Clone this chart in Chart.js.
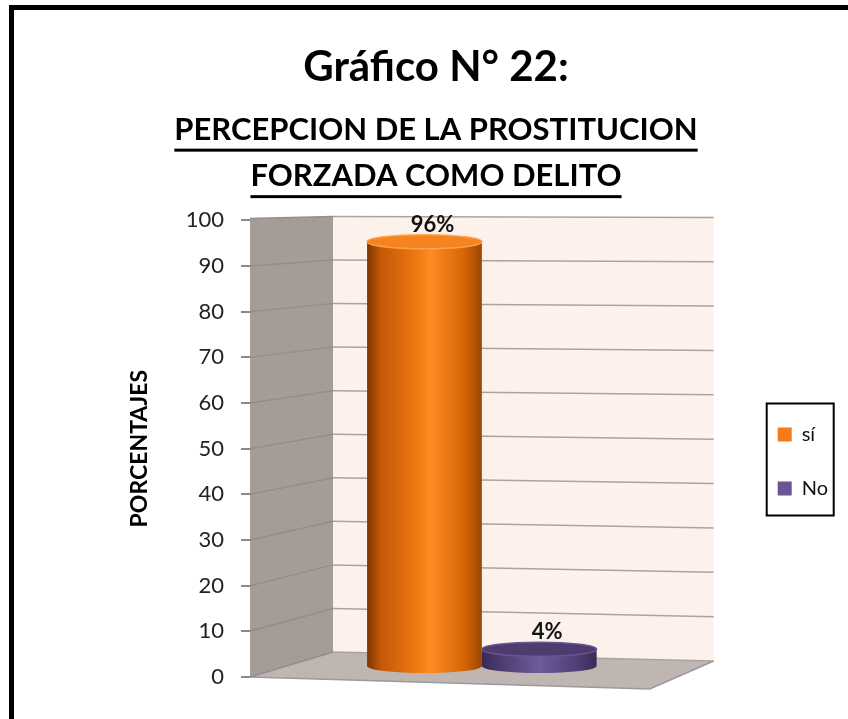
<!DOCTYPE html>
<html><head><meta charset="utf-8">
<script src="https://cdn.jsdelivr.net/npm/chart.js@4/dist/chart.umd.min.js"></script>
<style>html,body{margin:0;padding:0;background:#fff;overflow:hidden}</style>
</head><body>
<canvas id="c" width="848" height="719"></canvas>
<script>
const categories = [''];
const seriesNames = ['sí', 'No'];
const siValues = [96];
const noValues = [4];
const yTicks = [0, 10, 20, 30, 40, 50, 60, 70, 80, 90, 100];
const valueLabels = ['96%', '4%'];
const titleText = 'Gráfico N° 22:';
const subtitleLines = ['PERCEPCION DE LA PROSTITUCION', 'FORZADA COMO DELITO'];
const yAxisTitle = 'PORCENTAJES';
const seriesColors = ['#f47a1a', '#6b5592'];

const FONT = 'Lato, "Open Sans", sans-serif';
Chart.defaults.font.family = FONT;

const cylStops = [
  [[0, '#7e3602'], [0.12, '#c45806'], [0.45, '#f07a14'], [0.55, '#ff8b22'], [0.85, '#d46606'], [1, '#9c4503']],
  [[0, '#3a2a56'], [0.15, '#4c3a6e'], [0.5, '#6f5a9c'], [0.85, '#4e3c72'], [1, '#3a2a56']]
];
const capColors = [['#f5831f', '#ffa04a'], ['#4e3c70', '#6a5592']];

const framePlugin = {
  id: 'frame',
  beforeDraw(chart) {
    const ctx = chart.ctx;
    ctx.save();
    ctx.fillStyle = '#fff';
    ctx.fillRect(0, 0, chart.width, chart.height);
    ctx.fillStyle = '#000';
    ctx.fillRect(9, 5, chart.width - 9, 5);
    ctx.fillRect(9, 5, 5, chart.height - 5);
    ctx.restore();
  },
  afterDraw(chart) {
    const ctx = chart.ctx;
    const sub = chart.boxes.find(b => b.options && Array.isArray(b.options.text));
    if (sub) {
      const f = Chart.helpers.toFont(sub.options.font);
      const pad = Chart.helpers.toPadding(sub.options.padding);
      const cx = (sub.left + sub.right) / 2;
      ctx.save();
      ctx.font = f.string;
      ctx.fillStyle = '#000';
      sub.options.text.forEach((t, i) => {
        const w = ctx.measureText(t).width;
        const yc = sub.top + pad.top + f.lineHeight / 2 + i * f.lineHeight;
        ctx.fillRect(cx - w / 2, yc + 19, w, 3);
      });
      ctx.restore();
    }
    const lg = chart.legend;
    if (lg && lg.legendHitBoxes && lg.legendHitBoxes.length) {
      const hb = lg.legendHitBoxes;
      const l = hb[0].left - 11, t = hb[0].top - 21;
      const r = hb[0].left + 56, b = hb[hb.length - 1].top + hb[hb.length - 1].height + 17;
      ctx.save();
      ctx.strokeStyle = '#000';
      ctx.lineWidth = 2;
      ctx.strokeRect(l, t, r - l, b - t);
      ctx.restore();
    }
  }
};

const wallsPlugin = {
  id: 'walls',
  beforeDatasetsDraw(chart) {
    const ctx = chart.ctx, ys = chart.scales.y, ca = chart.chartArea;
    const L = ca.left, R = ca.right, dx = 83;
    const yF = v => ys.getPixelForValue(v);
    const T = yF(100), B = yF(0);
    const yBL = v => T - 4 + (yF(v) - T) * 0.954;
    const yBR = v => yBL(v) + 1 + (1 - v / 100) * 8;
    ctx.save();
    ctx.fillStyle = '#a59c98';
    ctx.beginPath();
    ctx.moveTo(L, T - 2); ctx.lineTo(L + dx, yBL(100)); ctx.lineTo(L + dx, yBL(0)); ctx.lineTo(L, B);
    ctx.closePath(); ctx.fill();
    ctx.fillStyle = '#fdf1ec';
    ctx.beginPath();
    ctx.moveTo(L + dx, yBL(100)); ctx.lineTo(R, yBR(100)); ctx.lineTo(R, yBR(0)); ctx.lineTo(L + dx, yBL(0));
    ctx.closePath(); ctx.fill();
    ctx.fillStyle = '#bfb5b1';
    ctx.beginPath();
    ctx.moveTo(L, B); ctx.lineTo(L + dx, yBL(0)); ctx.lineTo(R, yBR(0)); ctx.lineTo(R - 64, B + 12);
    ctx.closePath(); ctx.fill();
    ctx.strokeStyle = '#9a9a9a';
    ctx.lineWidth = 1.5;
    ctx.beginPath();
    ctx.moveTo(L, B); ctx.lineTo(R - 64, B + 12); ctx.lineTo(R, yBR(0));
    ctx.stroke();
    yTicks.forEach(v => {
      ctx.strokeStyle = '#8f8f8f';
      ctx.beginPath();
      ctx.moveTo(L, v === 100 ? T - 2 : yF(v)); ctx.lineTo(L + dx, yBL(v));
      ctx.stroke();
      ctx.strokeStyle = '#a8a4a2';
      ctx.beginPath();
      ctx.moveTo(L + dx, yBL(v)); ctx.lineTo(R, yBR(v));
      ctx.stroke();
    });
    ctx.restore();
  },
  afterDatasetsDraw(chart) {
    const ctx = chart.ctx;
    chart.data.datasets.forEach((ds, di) => {
      const meta = chart.getDatasetMeta(di);
      meta.data.forEach((el, j) => {
        const p = el.getProps(['x', 'y', 'base', 'width'], true);
        const w = p.width, x0 = p.x - w / 2, rx = w / 2, ry = 7;
        const yBot = p.base - 10;
        const yTop = yBot - (p.base - p.y) * 0.97;
        ctx.save();
        const g = ctx.createLinearGradient(x0, 0, x0 + w, 0);
        cylStops[di].forEach(s => g.addColorStop(s[0], s[1]));
        ctx.fillStyle = g;
        ctx.beginPath();
        ctx.moveTo(x0, yTop);
        ctx.lineTo(x0, yBot);
        ctx.ellipse(p.x, yBot, rx, ry, 0, Math.PI, 0, true);
        ctx.lineTo(x0 + w, yTop);
        ctx.closePath();
        ctx.fill();
        ctx.fillStyle = capColors[di][0];
        ctx.beginPath();
        ctx.ellipse(p.x, yTop, rx, ry, 0, 0, Math.PI * 2);
        ctx.fill();
        ctx.strokeStyle = capColors[di][1];
        ctx.lineWidth = 1.5;
        ctx.stroke();
        ctx.fillStyle = '#111';
        ctx.font = 'bold 22px ' + FONT;
        ctx.textAlign = 'center';
        ctx.textBaseline = 'bottom';
        ctx.fillText(valueLabels[di], p.x + 8, yTop - 6);
        ctx.restore();
      });
    });
  }
};

new Chart(document.getElementById('c'), {
  type: 'bar',
  data: {
    labels: categories,
    datasets: [
      { label: seriesNames[0], data: siValues, backgroundColor: 'rgba(0,0,0,0)', borderWidth: 0 },
      { label: seriesNames[1], data: noValues, backgroundColor: 'rgba(0,0,0,0)', borderWidth: 0 }
    ]
  },
  options: {
    responsive: false,
    animation: false,
    devicePixelRatio: 1,
    layout: { padding: { left: 34, right: 10, top: 10, bottom: 42 } },
    datasets: { bar: { categoryPercentage: 0.495, barPercentage: 1 } },
    plugins: {
      tooltip: { enabled: false },
      title: {
        display: true, text: titleText, color: '#000',
        font: { size: 42, weight: 'bold' },
        padding: { top: 32, bottom: 14 }
      },
      subtitle: {
        display: true, text: subtitleLines, color: '#000',
        font: { size: 31, weight: 'bold', lineHeight: 1.5 },
        padding: { top: 0, bottom: 21 }
      },
      legend: {
        display: true, position: 'right', align: 'center',
        title: { display: true, text: ' ', font: { size: 10 }, padding: 112 },
        labels: {
          boxWidth: 14, boxHeight: 14, padding: 34, color: '#111',
          font: { size: 20 },
          generateLabels: () => seriesNames.map((n, i) => ({
            text: n, fillStyle: seriesColors[i], strokeStyle: seriesColors[i],
            lineWidth: 0, hidden: false, datasetIndex: i, fontColor: '#111'
          }))
        }
      }
    },
    scales: {
      x: { display: false },
      y: {
        min: 0, max: 100,
        afterBuildTicks: s => { s.ticks = yTicks.map(v => ({ value: v })); },
        afterFit: s => { s.width = 216; },
        ticks: { font: { size: 22 }, color: '#222', padding: 17 },
        grid: { drawOnChartArea: false, drawTicks: true, tickLength: 9, color: '#8a8a8a', lineWidth: 2 },
        border: { display: false },
        title: { display: true, text: yAxisTitle, color: '#000', font: { size: 23, weight: 'bold' }, padding: { top: 92, bottom: 0 } }
      },
      gap: {
        type: 'linear', position: 'right', display: true,
        grid: { display: false }, ticks: { display: false }, border: { display: false },
        afterFit: s => { s.width = 30; }
      }
    }
  },
  plugins: [framePlugin, wallsPlugin]
});
</script>
</body></html>
